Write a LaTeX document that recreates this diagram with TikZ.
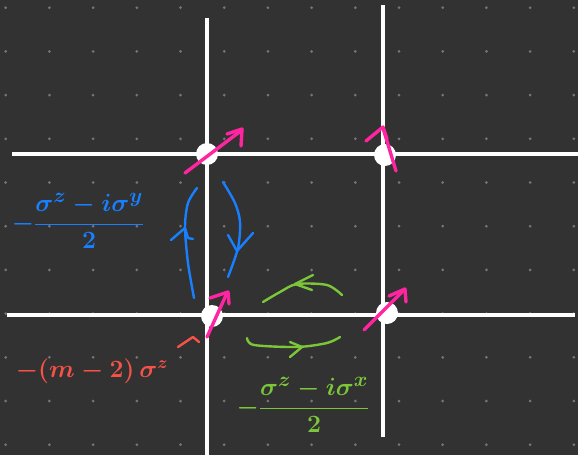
\documentclass[tikz,border=0pt]{standalone}
\definecolor{bg}{RGB}{50,50,50}
\definecolor{dotc}{RGB}{118,118,118}
\definecolor{pinkc}{RGB}{255,36,160}
\definecolor{bluec}{RGB}{24,128,255}
\definecolor{greenc}{RGB}{124,198,58}
\definecolor{redc}{RGB}{246,82,72}
\tikzset{
  gridline/.style={draw=white, line width=3.6pt},
  site/.style={circle, fill=white, minimum size=22pt, inner sep=0pt},
  spin/.style={draw=pinkc, line width=3.4pt, line cap=round, line join=round},
  hopb/.style={draw=bluec, line width=2.4pt, line cap=round, line join=round},
  hopg/.style={draw=greenc, line width=2.4pt, line cap=round, line join=round},
  hopr/.style={draw=redc, line width=2.4pt, line cap=round, line join=round},
  lbl/.style={font=\fontsize{31}{37}\selectfont\boldmath, inner sep=0pt},
  lbls/.style={font=\fontsize{26}{32}\selectfont\boldmath, inner sep=0pt}
}
\begin{document}
\begin{tikzpicture}[x=1pt,y=-1pt]
\fill[bg] (0,0) rectangle (578,455);
\useasboundingbox (0,0) rectangle (578,455);
\foreach \i in {0,...,13}{
  \foreach \j in {0,...,10}{
    \fill[dotc] (5.7+43.7*\i, 7.7+43.7*\j) circle (1.5);
  }
}
% lattice lines
\coordinate (h1w) at (12,154);
\coordinate (h1e) at (578,154);
\coordinate (h2w) at (7,315);
\coordinate (h2e) at (575,315);
\coordinate (v1n) at (207,18);
\coordinate (v1s) at (207,455);
\coordinate (v2n) at (383,5);
\coordinate (v2s) at (383,437);
\draw[gridline] (h1w) -- (h1e);
\draw[gridline] (h2w) -- (h2e);
\draw[gridline] (v1n) -- (v1s);
\draw[gridline] (v2n) -- (v2s);
% sites
\node[site] (s11) at (207,154) {};
\node[site] (s12) at (385,155) {};
\node[site] (s21) at (212,316) {};
\node[site] (s22) at (387,313) {};
% spins
\draw[spin] (185,173) -- (242,130);
\draw[spin] (227,134) -- (242,129) -- (241,146);
\draw[spin] (396,171) -- (383,128);
\draw[spin] (366,141) -- (383,127) -- (387,139);
\draw[spin] (207,337) -- (227,293);
\draw[spin] (210,298) -- (228,292) -- (229,304);
\draw[spin] (364,330) -- (403,291);
\draw[spin] (389,296) -- (405,289) -- (406,302);
% blue hopping (vertical)
\draw[hopb] plot[smooth] coordinates {(197,188) (188,203) (185,227) (188,263) (194,298)};
\draw[hopb] (171,240) -- (185,228) -- (188,238) -- (193,239);
\draw[hopb] plot[smooth] coordinates {(223,182) (235,203) (240,222) (238,248) (228,277)};
\draw[hopb] (228,235) -- (237,251) -- (253,233);
\node[lbl, text=bluec] (lb) at (78,221) {$\displaystyle -\frac{\sigma^z-i\sigma^y}{2}$};
% green hopping (horizontal)
\draw[hopg] plot[smooth] coordinates {(263,302) (280,292) (297,284) (327,285) (342,295)};
\draw[hopg] (313,275) -- (295,284) -- (312,290);
\draw[hopg] plot[smooth] coordinates {(247,338) (254,345) (297,347) (327,343) (340,337)};
\draw[hopg] (290,342) -- (302,347) -- (290,357);
\node[lbl, text=greenc] (lg) at (303,405) {$\displaystyle -\frac{\sigma^z-i\sigma^x}{2}$};
% red on-site term
\node[lbls, text=redc] (lr) at (92,371) {$-(m-2)\,\sigma^z$};
\draw[hopr] (178,347) -- (193,337) -- (199,342);
\end{tikzpicture}
\end{document}
